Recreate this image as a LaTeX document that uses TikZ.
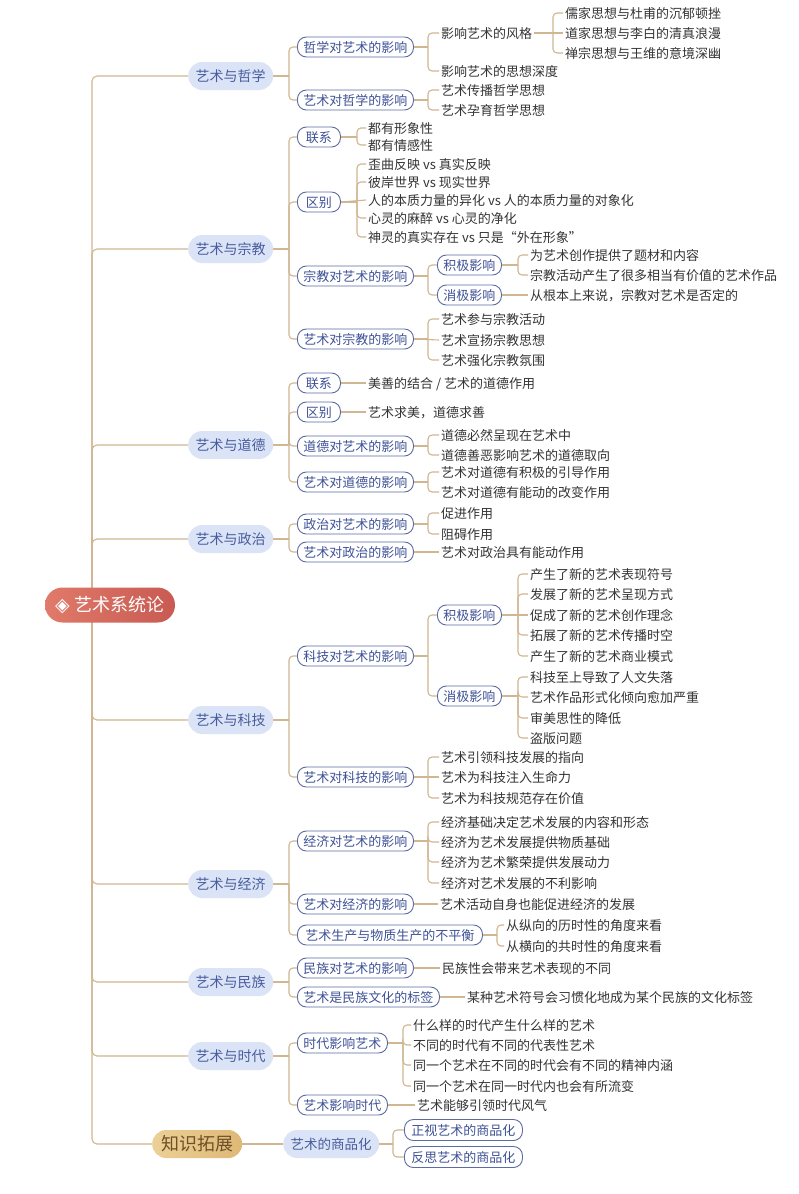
\documentclass[tikz,border=0pt]{standalone}
\usepackage{fontspec}
\setmainfont{Noto Sans CJK SC}
\newfontfamily\symfont{DejaVu Sans}
\usetikzlibrary{backgrounds}
\definecolor{conncol}{RGB}{208,182,145}
\definecolor{lvfill}{RGB}{219,228,246}
\definecolor{lvtext}{RGB}{72,92,158}
\definecolor{lvborder}{RGB}{92,108,162}
\definecolor{lvtwotext}{RGB}{62,82,150}
\definecolor{leaftext}{RGB}{52,52,52}
\definecolor{rootL}{RGB}{224,122,106}
\definecolor{rootR}{RGB}{200,90,82}
\definecolor{goldL}{RGB}{236,208,150}
\definecolor{goldR}{RGB}{222,184,118}
\definecolor{goldtext}{RGB}{110,80,40}
\tikzset{
  conn/.style={draw=conncol, line width=1.1pt, rounded corners=4pt},
  rootbox/.style={left color=rootL, right color=rootR, text=white, rounded corners=17.5pt,
    minimum height=35pt, minimum width=130pt, inner xsep=10pt, inner ysep=0pt,
    font=\fontsize{18}{20}\selectfont, text height=15pt, text depth=1.5pt},
  goldbox/.style={left color=goldL, right color=goldR, text=goldtext, rounded corners=14pt,
    minimum height=28pt, minimum width=90pt, inner xsep=9pt, inner ysep=0pt, anchor=west,
    font=\fontsize{18}{20}\selectfont, text height=15pt, text depth=1.5pt},
  lvone/.style={fill=lvfill, text=lvtext, rounded corners=14pt, minimum height=28pt,
    inner xsep=7.5pt, inner ysep=0pt, anchor=west,
    font=\fontsize{14}{16}\selectfont, text height=12pt, text depth=1.4pt},
  lvtwo/.style={draw=lvborder, fill=white, line width=0.9pt, rounded corners=9pt,
    minimum height=20pt, minimum width=43pt, inner xsep=6pt, inner ysep=0pt, anchor=west,
    text=lvtwotext, font=\fontsize{13}{15}\selectfont, text height=11pt, text depth=1pt},
  lf/.style={text=leaftext, inner xsep=2pt, inner ysep=1pt, anchor=west,
    font=\fontsize{13}{15}\selectfont, text height=11pt, text depth=1pt}
}
\newcommand\lk[3][10]{%
  \draw[conn] (#2.east) -- ([xshift=-#1pt]#3.west |- #2.east);
  \draw[conn] ([xshift=-#1pt]#3.west |- #2.east) |- (#3.west);}
\newcommand\sk[2]{\draw[conn] (#1.east) -- (#2.west);}
\begin{document}
\begin{tikzpicture}[x=1pt,y=-1pt]
\useasboundingbox (0,0) rectangle (798,1194);

% root
\node[rootbox] (root) at (110,605) {{\symfont\fontsize{19}{20}\selectfont ◈}\hspace{5pt}艺术系统论};
\coordinate (tr) at (92,605);

% level one
\node[lvone] (a1) at (188,76) {艺术与哲学};
\node[lvone] (a2) at (188,249) {艺术与宗教};
\node[lvone] (a3) at (188,445) {艺术与道德};
\node[lvone] (a4) at (188,539) {艺术与政治};
\node[lvone] (a5) at (188,720) {艺术与科技};
\node[lvone] (a6) at (188,884) {艺术与经济};
\node[lvone] (a7) at (188,982) {艺术与民族};
\node[lvone] (a8) at (188,1056) {艺术与时代};
\node[goldbox] (a9) at (152,1144) {知识拓展};

% philosophy
\node[lvtwo] (b11) at (297,47) {哲学对艺术的影响};
\node[lf] (c111) at (439,33) {影响艺术的风格};
\node[lf] (c112) at (439,71) {影响艺术的思想深度};
\node[lf] (d1) at (563,13) {儒家思想与杜甫的沉郁顿挫};
\node[lf] (d2) at (563,33) {道家思想与李白的清真浪漫};
\node[lf] (d3) at (563,53) {禅宗思想与王维的意境深幽};
\node[lvtwo] (b12) at (297,100) {艺术对哲学的影响};
\node[lf] (c121) at (439,90) {艺术传播哲学思想};
\node[lf] (c122) at (439,110) {艺术孕育哲学思想};

% religion
\node[lvtwo] (b21) at (297,137) {联系};
\node[lf] (c211) at (366,128) {都有形象性};
\node[lf] (c212) at (366,145) {都有情感性};
\node[lvtwo] (b22) at (297,202) {区别};
\node[lf] (c221) at (366,164) {歪曲反映 vs 真实反映};
\node[lf] (c222) at (366,182) {彼岸世界 vs 现实世界};
\node[lf] (c223) at (366,200) {人的本质力量的异化 vs 人的本质力量的对象化};
\node[lf] (c224) at (366,218) {心灵的麻醉 vs 心灵的净化};
\node[lf] (c225) at (366,237) {神灵的真实存在 vs 只是“外在形象”};
\node[lvtwo] (b23) at (297,276) {宗教对艺术的影响};
\node[lvtwo] (e1) at (437,265) {积极影响};
\node[lvtwo] (e2) at (437,295) {消极影响};
\node[lf] (f11) at (528,255) {为艺术创作提供了题材和内容};
\node[lf] (f12) at (528,275) {宗教活动产生了很多相当有价值的艺术作品};
\node[lf] (f21) at (528,295) {从根本上来说，宗教对艺术是否定的};
\node[lvtwo] (b24) at (297,339) {艺术对宗教的影响};
\node[lf] (c241) at (439,319) {艺术参与宗教活动};
\node[lf] (c242) at (439,340) {艺术宣扬宗教思想};
\node[lf] (c243) at (439,360) {艺术强化宗教氛围};

% morality
\node[lvtwo] (b31) at (297,383) {联系};
\node[lf] (c311) at (366,383) {美善的结合 / 艺术的道德作用};
\node[lvtwo] (b32) at (297,412) {区别};
\node[lf] (c321) at (366,412) {艺术求美，道德求善};
\node[lvtwo] (b33) at (297,446) {道德对艺术的影响};
\node[lf] (c331) at (439,435) {道德必然呈现在艺术中};
\node[lf] (c332) at (439,455) {道德善恶影响艺术的道德取向};
\node[lvtwo] (b34) at (297,482) {艺术对道德的影响};
\node[lf] (c341) at (439,472) {艺术对道德有积极的引导作用};
\node[lf] (c342) at (439,492) {艺术对道德有能动的改变作用};

% politics
\node[lvtwo] (b41) at (297,524) {政治对艺术的影响};
\node[lf] (c411) at (439,513) {促进作用};
\node[lf] (c412) at (439,534) {阻碍作用};
\node[lvtwo] (b42) at (297,552) {艺术对政治的影响};
\node[lf] (c421) at (439,552) {艺术对政治具有能动作用};

% technology
\node[lvtwo] (b51) at (297,656) {科技对艺术的影响};
\node[lvtwo] (e3) at (437,615) {积极影响};
\node[lvtwo] (e4) at (437,696) {消极影响};
\node[lf] (f31) at (528,574) {产生了新的艺术表现符号};
\node[lf] (f32) at (528,594) {发展了新的艺术呈现方式};
\node[lf] (f33) at (528,615) {促成了新的艺术创作理念};
\node[lf] (f34) at (528,635) {拓展了新的艺术传播时空};
\node[lf] (f35) at (528,656) {产生了新的艺术商业模式};
\node[lf] (f41) at (528,677) {科技至上导致了人文失落};
\node[lf] (f42) at (528,697) {艺术作品形式化倾向愈加严重};
\node[lf] (f43) at (528,718) {审美思性的降低};
\node[lf] (f44) at (528,738) {盗版问题};
\node[lvtwo] (b52) at (297,777) {艺术对科技的影响};
\node[lf] (c521) at (439,757) {艺术引领科技发展的指向};
\node[lf] (c522) at (439,777) {艺术为科技注入生命力};
\node[lf] (c523) at (439,798) {艺术为科技规范存在价值};

% economy
\node[lvtwo] (b61) at (297,841) {经济对艺术的影响};
\node[lf] (c611) at (439,822) {经济基础决定艺术发展的内容和形态};
\node[lf] (c612) at (439,842) {经济为艺术发展提供物质基础};
\node[lf] (c613) at (439,862) {经济为艺术繁荣提供发展动力};
\node[lf] (c614) at (439,883) {经济对艺术发展的不利影响};
\node[lvtwo] (b62) at (297,904) {艺术对经济的影响};
\node[lf] (c621) at (438,904) {艺术活动自身也能促进经济的发展};
\node[lvtwo, minimum width=185pt] (b63) at (297,935) {艺术生产与物质生产的不平衡};
\node[lf] (c631) at (504,925) {从纵向的历时性的角度来看};
\node[lf] (c632) at (504,946) {从横向的共时性的角度来看};

% nation
\node[lvtwo] (b71) at (297,968) {民族对艺术的影响};
\node[lf] (c711) at (440,968) {民族性会带来艺术表现的不同};
\node[lvtwo] (b72) at (297,997) {艺术是民族文化的标签};
\node[lf] (c721) at (465,997) {某种艺术符号会习惯化地成为某个民族的文化标签};

% era
\node[lvtwo] (b81) at (297,1043) {时代影响艺术};
\node[lf] (c811) at (411,1025) {什么样的时代产生什么样的艺术};
\node[lf] (c812) at (411,1045) {不同的时代有不同的代表性艺术};
\node[lf] (c813) at (411,1065) {同一个艺术在不同的时代会有不同的精神内涵};
\node[lf] (c814) at (411,1086) {同一个艺术在同一时代内也会有所流变};
\node[lvtwo] (b82) at (297,1105) {艺术影响时代};
\node[lf] (c821) at (415,1105) {艺术能够引领时代风气};

% extension
\node[lvone, font=\fontsize{13.5}{16}\selectfont] (b91) at (283,1144) {艺术的商品化};
\node[lvtwo, minimum width=118pt, minimum height=21pt] (g1) at (404,1130) {正视艺术的商品化};
\node[lvtwo, minimum width=118pt, minimum height=21pt] (g2) at (404,1157) {反思艺术的商品化};

\begin{pgfonlayer}{background}
  \fill[white] (0,0) rectangle (798,1194);
  \foreach \n in {a1,a2,a3,a4,a5,a6,a7,a8,a9}{\draw[conn, rounded corners=5pt] (tr) |- (\n.west);}
  % philosophy
  \lk[8]{a1}{b11} \lk[8]{a1}{b12}
  \lk[11]{b11}{c111} \lk[11]{b11}{c112}
  \lk{c111}{d1} \sk{c111}{d2} \lk{c111}{d3}
  \lk[11]{b12}{c121} \lk[11]{b12}{c122}
  % religion
  \lk[8]{a2}{b21} \lk[8]{a2}{b22} \lk[8]{a2}{b23} \lk[8]{a2}{b24}
  \lk[9]{b21}{c211} \lk[9]{b21}{c212}
  \foreach \n in {c221,c222,c224,c225}{\lk[9]{b22}{\n}}
  \sk{b22}{c223}
  \lk[9]{b23}{e1} \lk[9]{b23}{e2}
  \lk{e1}{f11} \lk{e1}{f12} \sk{e2}{f21}
  \lk[11]{b24}{c241} \lk[11]{b24}{c243} \sk{b24}{c242}
  % morality
  \lk[8]{a3}{b31} \lk[8]{a3}{b32} \lk[8]{a3}{b33} \lk[8]{a3}{b34}
  \sk{b31}{c311} \sk{b32}{c321}
  \lk[11]{b33}{c331} \lk[11]{b33}{c332}
  \lk[11]{b34}{c341} \lk[11]{b34}{c342}
  % politics
  \lk[8]{a4}{b41} \lk[8]{a4}{b42}
  \lk[11]{b41}{c411} \lk[11]{b41}{c412} \sk{b42}{c421}
  % technology
  \lk[8]{a5}{b51} \lk[8]{a5}{b52}
  \lk[9]{b51}{e3} \lk[9]{b51}{e4}
  \foreach \n in {f31,f32,f34,f35}{\lk{e3}{\n}}
  \sk{e3}{f33}
  \foreach \n in {f41,f42,f43,f44}{\lk{e4}{\n}}
  \lk[11]{b52}{c521} \lk[11]{b52}{c523} \sk{b52}{c522}
  % economy
  \lk[8]{a6}{b61} \lk[8]{a6}{b62} \lk[8]{a6}{b63}
  \foreach \n in {c611,c612,c613,c614}{\lk[11]{b61}{\n}}
  \sk{b62}{c621}
  \lk[7]{b63}{c631} \lk[7]{b63}{c632}
  % nation
  \lk[8]{a7}{b71} \lk[8]{a7}{b72}
  \sk{b71}{c711} \sk{b72}{c721}
  % era
  \lk[8]{a8}{b81} \lk[8]{a8}{b82}
  \foreach \n in {c811,c812,c813,c814}{\lk[8]{b81}{\n}}
  \sk{b82}{c821}
  % extension
  \sk{a9}{b91}
  \lk[11]{b91}{g1} \lk[11]{b91}{g2}
\end{pgfonlayer}
\end{tikzpicture}
\end{document}
